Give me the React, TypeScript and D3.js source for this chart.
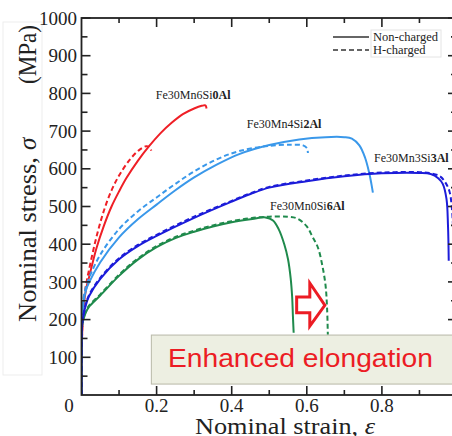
import React from "react";
import * as d3 from "d3";

type Pt = [number, number];

// Fe30Mn6Si0Al
const redSolid: Pt[] = [[0,0],[0.002,170],[0.006,238],[0.012,280],[0.02,312],[0.04,390],[0.06,450],[0.08,500],[0.1,540],[0.12,576],[0.15,621],[0.18,660],[0.21,694],[0.24,722],[0.27,745],[0.3,760],[0.32,767],[0.33,768],[0.333,760]];
const redDashed: Pt[] = [[0,0],[0.002,180],[0.006,252],[0.012,292],[0.02,332],[0.04,420],[0.06,490],[0.08,543],[0.1,582],[0.13,626],[0.155,651],[0.172,660],[0.18,658],[0.186,648]];
// Fe30Mn4Si2Al
const lightBlueSolid: Pt[] = [[0,0],[0.002,200],[0.006,250],[0.012,278],[0.02,298],[0.05,352],[0.1,418],[0.15,466],[0.2,505],[0.25,543],[0.3,577],[0.36,611],[0.42,639],[0.5,663],[0.58,678],[0.65,684],[0.7,684],[0.72,680],[0.74,662],[0.755,630],[0.766,590],[0.772,560],[0.776,537]];
const lightBlueDashed: Pt[] = [[0,0],[0.002,210],[0.006,260],[0.012,287],[0.02,310],[0.05,372],[0.1,440],[0.15,487],[0.2,524],[0.25,560],[0.3,593],[0.36,625],[0.42,647],[0.5,661],[0.56,664],[0.59,662],[0.6,655],[0.603,642]];
// Fe30Mn3Si3Al
const blueSolid: Pt[] = [[0,0],[0.002,190],[0.006,215],[0.012,240],[0.02,262],[0.05,308],[0.1,360],[0.15,395],[0.2,422],[0.3,470],[0.4,513],[0.45,533],[0.5,550],[0.6,567],[0.7,580],[0.8,588],[0.9,589],[0.93,586],[0.95,575],[0.962,560],[0.972,520],[0.976,450],[0.978,356]];
const blueDashed: Pt[] = [[0,0],[0.002,192],[0.006,218],[0.012,243],[0.02,265],[0.05,311],[0.1,363],[0.15,398],[0.2,425],[0.3,473],[0.4,515],[0.45,535],[0.5,552],[0.6,569],[0.7,582],[0.8,590],[0.9,591],[0.93,588],[0.955,580],[0.97,562],[0.98,540],[0.986,500],[0.99,440],[0.995,380]];
// Fe30Mn0Si6Al
const greenSolid: Pt[] = [[0,0],[0.002,185],[0.006,203],[0.012,220],[0.02,234],[0.05,264],[0.1,316],[0.15,359],[0.2,392],[0.25,416],[0.3,433],[0.35,447],[0.4,458],[0.45,466],[0.49,471],[0.51,463],[0.525,440],[0.54,400],[0.55,360],[0.557,310],[0.561,260],[0.563,210],[0.565,165]];
const greenDashed: Pt[] = [[0,0],[0.002,187],[0.006,206],[0.012,223],[0.02,237],[0.05,267],[0.1,319],[0.15,362],[0.2,395],[0.25,419],[0.3,436],[0.35,450],[0.4,461],[0.45,469],[0.5,473],[0.55,473],[0.575,468],[0.6,447],[0.615,420],[0.63,390],[0.642,340],[0.65,290],[0.654,230],[0.656,160]];

const xTickLabels = ["0.2", "0.4", "0.6", "0.8"];
const yTickLabels = ["100","200","300","400","500","600","700","800","900","1000"];

const series = [
  { data: redSolid, color: "#ef1f26", dash: null },
  { data: redDashed, color: "#ef1f26", dash: "5,3" },
  { data: lightBlueSolid, color: "#3a98ea", dash: null },
  { data: lightBlueDashed, color: "#3a98ea", dash: "5,3" },
  { data: greenSolid, color: "#1f8a4c", dash: null },
  { data: greenDashed, color: "#1f8a4c", dash: "5,3" },
  { data: blueSolid, color: "#1c1cd9", dash: null },
  { data: blueDashed, color: "#1c1cd9", dash: "5,3" },
];

const labels = [
  { pre: "Fe30Mn6Si", bold: "0Al", x: 0.198, y: 785 },
  { pre: "Fe30Mn4Si", bold: "2Al", x: 0.44, y: 708 },
  { pre: "Fe30Mn3Si", bold: "3Al", x: 0.779, y: 617 },
  { pre: "Fe30Mn0Si", bold: "6Al", x: 0.502, y: 491 },
];

const SERIF = "'Liberation Serif', 'Times New Roman', serif";

export default function App() {
  const x = d3.scaleLinear().domain([0, 1]).range([81.5, 457]);
  const y = d3.scaleLinear().domain([0, 1000]).range([395, 18]);
  const line = d3.line<Pt>().x(d => x(d[0])).y(d => y(d[1])).curve(d3.curveCatmullRom.alpha(0.5));
  const xMinor = [0.1, 0.3, 0.5, 0.7, 0.9];
  const yMinor = d3.range(50, 1000, 100);
  const yMajor = d3.range(100, 1001, 100);
  const xMajor = [0.2, 0.4, 0.6, 0.8];
  const axis = "#222";
  const L = x(0), R = x(1), T = y(1000), B = y(0);

  // arrow in data coordinates
  const ax0 = x(0.573), ax1 = x(0.608), ax2 = x(0.648);
  const ayC = y(238), ayS1 = y(260), ayS2 = y(218), ayH1 = y(297), ayH2 = y(183);
  const arrowPts = [[ax0, ayS1], [ax1, ayS1], [ax1, ayH1], [ax2, ayC], [ax1, ayH2], [ax1, ayS2], [ax0, ayS2]].map(p => p.join(",")).join(" ");

  return (
    <svg width={452} height={436} style={{ position: "absolute", left: 0, top: 0, background: "#fff" }}>
      <rect x={3} y={22} width={39} height={353} fill="none" stroke="#ededed" strokeWidth={1} />
      <defs>
        <clipPath id="plot"><rect x={L} y={T} width={R - L} height={B - T} /></clipPath>
      </defs>
      <g clipPath="url(#plot)">
        {series.map((s, i) => (
          <path key={i} d={line(s.data) || ""} fill="none" stroke={s.color} strokeWidth={2}
            strokeDasharray={s.dash || undefined} strokeLinejoin="round" />
        ))}
      </g>
      <rect x={L} y={T} width={R - L} height={B - T} fill="none" stroke={axis} strokeWidth={1.8} />
      {xMajor.map(v => (
        <g key={"xm" + v}>
          <line x1={x(v)} x2={x(v)} y1={B} y2={B - 9} stroke={axis} strokeWidth={1.6} />
          <line x1={x(v)} x2={x(v)} y1={T} y2={T + 9} stroke={axis} strokeWidth={1.6} />
        </g>
      ))}
      {xMinor.map(v => (
        <g key={"xn" + v}>
          <line x1={x(v)} x2={x(v)} y1={B} y2={B - 5} stroke={axis} strokeWidth={1.6} />
          <line x1={x(v)} x2={x(v)} y1={T} y2={T + 5} stroke={axis} strokeWidth={1.6} />
        </g>
      ))}
      {yMajor.map(v => (
        <g key={"ym" + v}>
          <line x1={L} x2={L + 9} y1={y(v)} y2={y(v)} stroke={axis} strokeWidth={1.6} />
          <line x1={R} x2={R - 9} y1={y(v)} y2={y(v)} stroke={axis} strokeWidth={1.6} />
        </g>
      ))}
      {yMinor.map(v => (
        <g key={"yn" + v}>
          <line x1={L} x2={L + 6} y1={y(v)} y2={y(v)} stroke={axis} strokeWidth={1.6} />
          <line x1={R} x2={R - 6} y1={y(v)} y2={y(v)} stroke={axis} strokeWidth={1.6} />
        </g>
      ))}
      <g fontFamily={SERIF} fontSize={19} fill="#222">
        {yTickLabels.map((t, i) => (
          <text key={t} x={77} y={y(yMajor[i])} dy="0.35em" textAnchor="end">{t}</text>
        ))}
        {xTickLabels.map((t, i) => (
          <text key={t} x={x(xMajor[i])} y={412} textAnchor="middle">{t}</text>
        ))}
        <text x={69} y={412} textAnchor="middle">0</text>
      </g>
      <text x={195} y={434} fontFamily={SERIF} fontSize={24} fill="#222" textLength={180} lengthAdjust="spacingAndGlyphs">
        Nominal strain, <tspan fontStyle="italic">ε</tspan>
      </text>
      <g transform="translate(36,0) rotate(-90)" fontFamily={SERIF} fontSize={25} fill="#222">
        <text x={-322} y={0} textLength={165} lengthAdjust="spacingAndGlyphs">Nominal stress,</text>
        <text x={-150} y={0} fontStyle="italic">σ</text>
        <text x={-84} y={0} textLength={59} lengthAdjust="spacingAndGlyphs">(MPa)</text>
      </g>
      <g fontFamily={SERIF} fontSize={12} fill="#222">
        {labels.map(l => (
          <text key={l.pre + l.bold} x={x(l.x)} y={y(l.y)}>
            {l.pre}<tspan fontWeight="bold">{l.bold}</tspan>
          </text>
        ))}
      </g>
      <rect x={371} y={30} width={70} height={27} fill="#fff" stroke="#e4e4e4" strokeWidth={1} />
      <line x1={333} x2={369} y1={37} y2={37} stroke="#333" strokeWidth={1.4} />
      <line x1={333} x2={369} y1={50} y2={50} stroke="#333" strokeWidth={1.4} strokeDasharray="5,3" />
      <g fontFamily={SERIF} fontSize={12.5} fill="#222">
        <text x={373} y={41}>Non-charged</text>
        <text x={373} y={54}>H-charged</text>
      </g>
      <polygon points={arrowPts} fill="#fff" stroke="#ec1c24" strokeWidth={3} strokeLinejoin="miter" />
      <rect x={x(0.186)} y={y(159)} width={x(1) - x(0.186) + 5} height={y(29) - y(159)} fill="#edefe2" stroke="#b8b8a8" strokeWidth={1} />
      <text x={168} y={367} fontFamily="'Liberation Sans', Arial, sans-serif" fontSize={25} fill="#ec1c24" textLength={265} lengthAdjust="spacingAndGlyphs">Enhanced elongation</text>
    </svg>
  );
}
